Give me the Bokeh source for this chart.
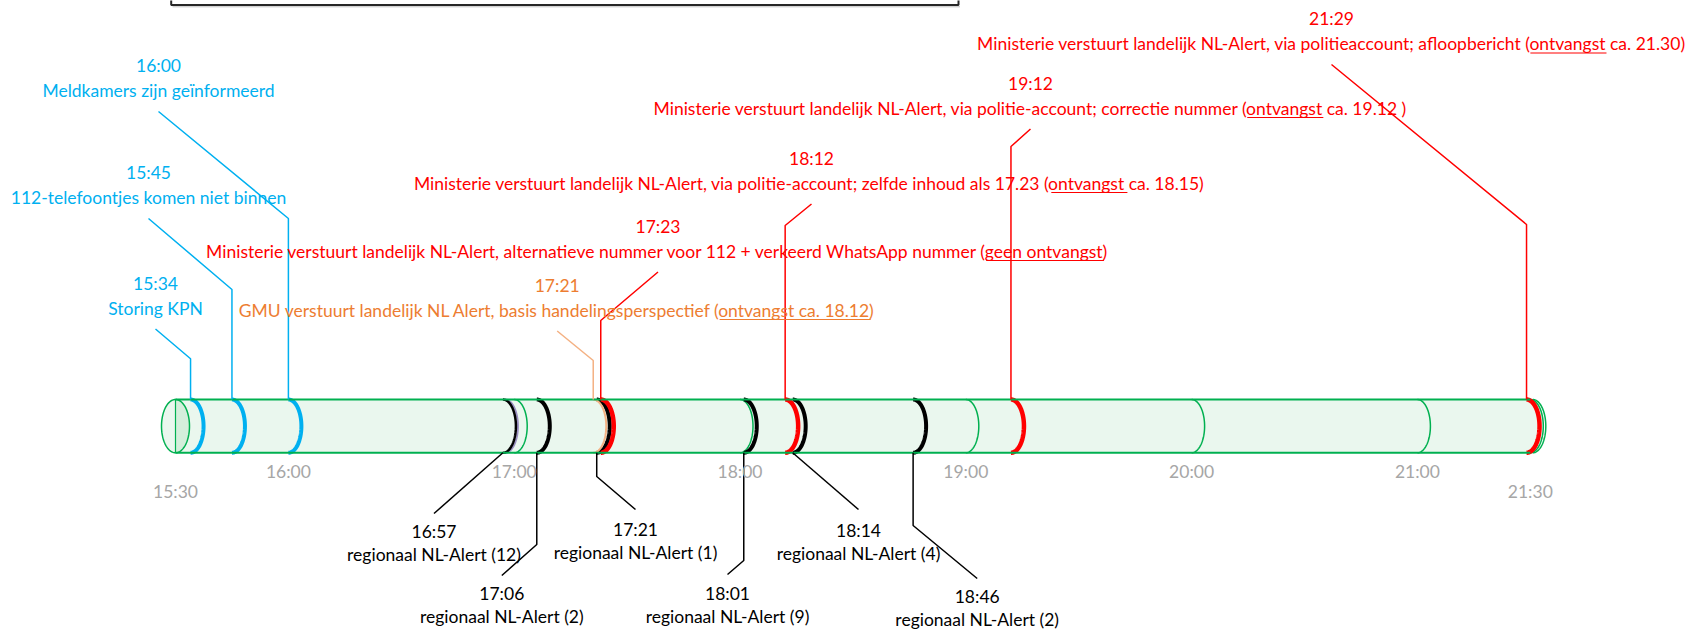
import glob, os, re
import numpy as np
from bokeh.plotting import figure
from bokeh.models import Range1d
from bokeh.core.properties import value
from bokeh.embed import file_html
from bokeh.resources import INLINE

# ---------------- data ----------------
tick_labels = ["15:30", "16:00", "17:00", "18:00", "19:00", "20:00", "21:00", "21:30"]
hour_dividers = ["17:00", "18:00", "19:00", "20:00", "21:00"]

top_times = ["15:34", "15:45", "16:00", "17:21", "17:23", "18:12", "19:12", "21:29"]
top_texts = [
    "Storing KPN",
    "112-telefoontjes komen niet binnen",
    "Meldkamers zijn geïnformeerd",
    "GMU verstuurt landelijk NL Alert, basis handelingsperspectief (ontvangst ca. 18.12)",
    "Ministerie verstuurt landelijk NL-Alert, alternatieve nummer voor 112 + verkeerd WhatsApp nummer (geen ontvangst)",
    "Ministerie verstuurt landelijk  NL-Alert, via politie-account; zelfde inhoud als 17.23 (ontvangst ca. 18.15)",
    "Ministerie verstuurt landelijk NL-Alert, via politie-account; correctie nummer (ontvangst ca. 19.12 )",
    "Ministerie verstuurt landelijk NL-Alert, via politieaccount; afloopbericht (ontvangst ca. 21.30)",
]
top_underlined = ["", "", "", "ontvangst ca. 18.12", "geen ontvangst", "ontvangst", "ontvangst", "ontvangst"]
top_source = ["melding", "melding", "melding", "GMU", "Ministerie", "Ministerie", "Ministerie", "Ministerie"]

bottom_times = ["16:57", "17:06", "17:21", "18:01", "18:14", "18:46"]
bottom_counts = [12, 2, 1, 9, 4, 2]

# ---------------- style / layout ----------------
W, H = 1691, 630
HOUR_PX = 225.8
X_START = 15.5 - 175.0 / HOUR_PX
X_END = X_START + W / HOUR_PX

FONT = "Lato"
FS = 17.5
FONT_FILES = ["Lato-Regular.ttf", "Lato-Reg.ttf"]
TEXT_DY = -1.5  # canvas 'middle' baseline vs. visual centre

COL = {"melding": "#00B0F0", "GMU": "#ED7D31", "Ministerie": "#FF0000", "regionaal": "#000000"}
LEAD_COL = {"melding": "#00B0F0", "GMU": "#F4B183", "Ministerie": "#FF0000", "regionaal": "#000000"}
ARC_COL = {"melding": "#00B0F0", "GMU": "#F4B183", "Ministerie": "#FF0000", "regionaal": "#000000"}
ARC_W = {"melding": 4, "GMU": 2, "Ministerie": 4.5, "regionaal": 4}
GREEN = "#00B050"
FILL = "#EAF7EE"
CAP_FILL = "#D4EEDB"
TICK_COL = "#A6A6A6"

Y_TOP, Y_BOT = 399.0, 452.3
YC = (Y_TOP + Y_BOT) / 2
B = (Y_BOT - Y_TOP) / 2
A = 13.0

# top label layout (page px, visual centres)
top_cx = [155, 148, 158, 556.7, 657.5, 811, 1030, 1331]
top_time_y = [284, 173.5, 66.5, 286, 227, 159, 84, 19.5]
top_elbow_y = [358.3, 289, 218, 360, 320, 225, 146, 224]
DESC_DY = 25
LEAD_DY = 44.5

# bottom label layout (page px)
bot_cx = [433.5, 501.3, 635, 727, 858, 976.7]
bot_time_y = [532, 594, 530, 594, 531, 597]
bot_elbow_y = [None, 544, 476, 560, None, 525]
bot_end_y = [513, 575, 509, 574, 509, 578]
bot_arc_off = [0, 0, 3.5, 0, 0, 0]
BOT_DY = 23.5

tick_y = {"15:30": 492, "21:30": 492}
TICK_Y = 472


def to_h(s):
    h, m = s.split(":")
    return int(h) + int(m) / 60.0


def hx(px):
    return X_START + px / HOUR_PX


def dx(px):
    return px / HOUR_PX


# text measurement for underlines
_font = None
try:
    from PIL import ImageFont
    path = None
    for root in ["/usr/share/fonts", "/usr/local/share/fonts", os.path.expanduser("~/.fonts"),
                 os.path.expanduser("~/.local/share/fonts")]:
        for n in FONT_FILES:
            hits = glob.glob(os.path.join(root, "**", n), recursive=True)
            if hits:
                path = hits[0]
                break
        if path:
            break
    if path:
        _font = ImageFont.truetype(path, FS)
except Exception:
    _font = None


def measure(s):
    s = re.sub(" +", " ", s)
    if _font is not None:
        return _font.getlength(s)
    return 0.5 * FS * len(s)


p = figure(width=W, height=H, x_range=Range1d(X_START, X_END), y_range=Range1d(H, 0),
           output_backend="svg", toolbar_location=None, min_border=0,
           x_axis_location=None, y_axis_location=None)
p.grid.visible = False
p.outline_line_color = None
p.background_fill_color = "white"
p.border_fill_color = "white"

# top frame remnant (box above the chart)
p.line(x=[hx(170.7), hx(170.7), hx(958), hx(958)], y=[-2, 4.5, 4.5, -2], line_color="#262626", line_width=2)
p.line(x=[hx(172), hx(959.5)], y=[6.3, 6.3], line_color="#BFBFBF", line_width=1)

t0, t1 = to_h(tick_labels[0]), to_h(tick_labels[-1])
th = np.linspace(-np.pi / 2, np.pi / 2, 60)

# cylinder body
bx = [t0, t1] + list(t1 + dx(A) * np.cos(th)) + [t1, t0]
by = [Y_TOP, Y_TOP] + list(YC + B * np.sin(th)) + [Y_BOT, Y_BOT]
p.patch(x=bx, y=by, fill_color=FILL, line_color=None)

# left cap
thl = np.linspace(np.pi / 2, 3 * np.pi / 2, 60)
p.patch(x=list(t0 + dx(A + 1) * np.cos(thl)), y=list(YC - B * np.sin(thl)), fill_color=FILL, line_color=None)
p.patch(x=list(t0 + dx(A + 1) * np.cos(th)), y=list(YC + B * np.sin(th)), fill_color=CAP_FILL, line_color=None)
full = np.linspace(0, 2 * np.pi, 120)
p.line(x=t0 + dx(A + 1) * np.cos(full), y=YC + B * np.sin(full), line_color=GREEN, line_width=1.5)
p.line(x=[t0, t0], y=[Y_TOP, Y_BOT], line_color=GREEN, line_width=1.2)

# hour dividers and end cap
xs, ys = [], []
for hd in hour_dividers:
    t = to_h(hd)
    xs.append(list(t + dx(A) * np.cos(th)))
    ys.append(list(YC + B * np.sin(th)))
for off in (0, 2.5):
    xs.append(list(t1 + dx(off) + dx(A) * np.cos(th)))
    ys.append(list(YC + B * np.sin(th)))
p.multi_line(xs=xs, ys=ys, line_color=GREEN, line_width=1.5)


# event rings
def ring(t, off=0.0):
    return list(t + dx(off) + dx(A) * np.cos(th)), list(YC + B * np.sin(th))


# 16:57 extra lavender ring (overlapping regional alerts)
rx, ry = ring(to_h(bottom_times[0]), 2.0)
p.line(x=rx, y=ry, line_color="#9A8FC0", line_width=2)

for i, bt in enumerate(bottom_times):
    rx, ry = ring(to_h(bt), bot_arc_off[i])
    w = 2.5 if i == 0 else ARC_W["regionaal"]
    p.line(x=rx, y=ry, line_color=ARC_COL["regionaal"], line_width=w)

for tt, src in zip(top_times, top_source):
    rx, ry = ring(to_h(tt))
    p.line(x=rx, y=ry, line_color=ARC_COL[src], line_width=ARC_W[src])

# top / bottom edges
p.line(x=[t0, t1], y=[Y_TOP, Y_TOP], line_color=GREEN, line_width=2)
p.line(x=[t0, t1], y=[Y_BOT, Y_BOT], line_color=GREEN, line_width=2)

# top leaders
for i, tt in enumerate(top_times):
    t = to_h(tt)
    src = top_source[i]
    p.line(x=[hx(top_cx[i]), t, t], y=[top_time_y[i] + LEAD_DY, top_elbow_y[i], Y_TOP],
           line_color=LEAD_COL[src], line_width=1.5)

# bottom leaders
for i, bt in enumerate(bottom_times):
    t = to_h(bt) + dx(bot_arc_off[i])
    lx, ly = [t], [Y_BOT]
    if bot_elbow_y[i] is not None:
        lx.append(t)
        ly.append(bot_elbow_y[i])
    lx.append(hx(bot_cx[i]))
    ly.append(bot_end_y[i])
    p.line(x=lx, y=ly, line_color="#000000", line_width=1.5)

TXT = dict(text_font=value(FONT), text_font_size=f"{FS}px", text_align="center", text_baseline="middle")

# top texts
tcol = [COL[s] for s in top_source]
p.text(x=[hx(c) for c in top_cx], y=[y + TEXT_DY for y in top_time_y], text=top_times, text_color=tcol, **TXT)
p.text(x=[hx(c) for c in top_cx], y=[y + DESC_DY + TEXT_DY for y in top_time_y], text=top_texts,
       text_color=tcol, **TXT)

# underlines
for i, (txt, ul) in enumerate(zip(top_texts, top_underlined)):
    if not ul:
        continue
    total = measure(txt)
    left = top_cx[i] - total / 2
    k = txt.index(ul)
    s = left + measure(txt[:k])
    e = s + measure(ul)
    yy = top_time_y[i] + DESC_DY + 8
    p.line(x=[hx(s), hx(e)], y=[yy, yy], line_color=tcol[i], line_width=1.2)

# bottom texts
p.text(x=[hx(c) for c in bot_cx], y=[y + TEXT_DY for y in bot_time_y], text=bottom_times,
       text_color="#000000", **TXT)
p.text(x=[hx(c) for c in bot_cx], y=[y + BOT_DY + TEXT_DY for y in bot_time_y],
       text=[f"regionaal NL-Alert ({n})" for n in bottom_counts], text_color="#000000", **TXT)

# tick labels
p.text(x=[to_h(t) for t in tick_labels], y=[tick_y.get(t, TICK_Y) + TEXT_DY for t in tick_labels],
       text=tick_labels, text_color=TICK_COL, **TXT)

open("out.html", "w").write(file_html(p, INLINE))
